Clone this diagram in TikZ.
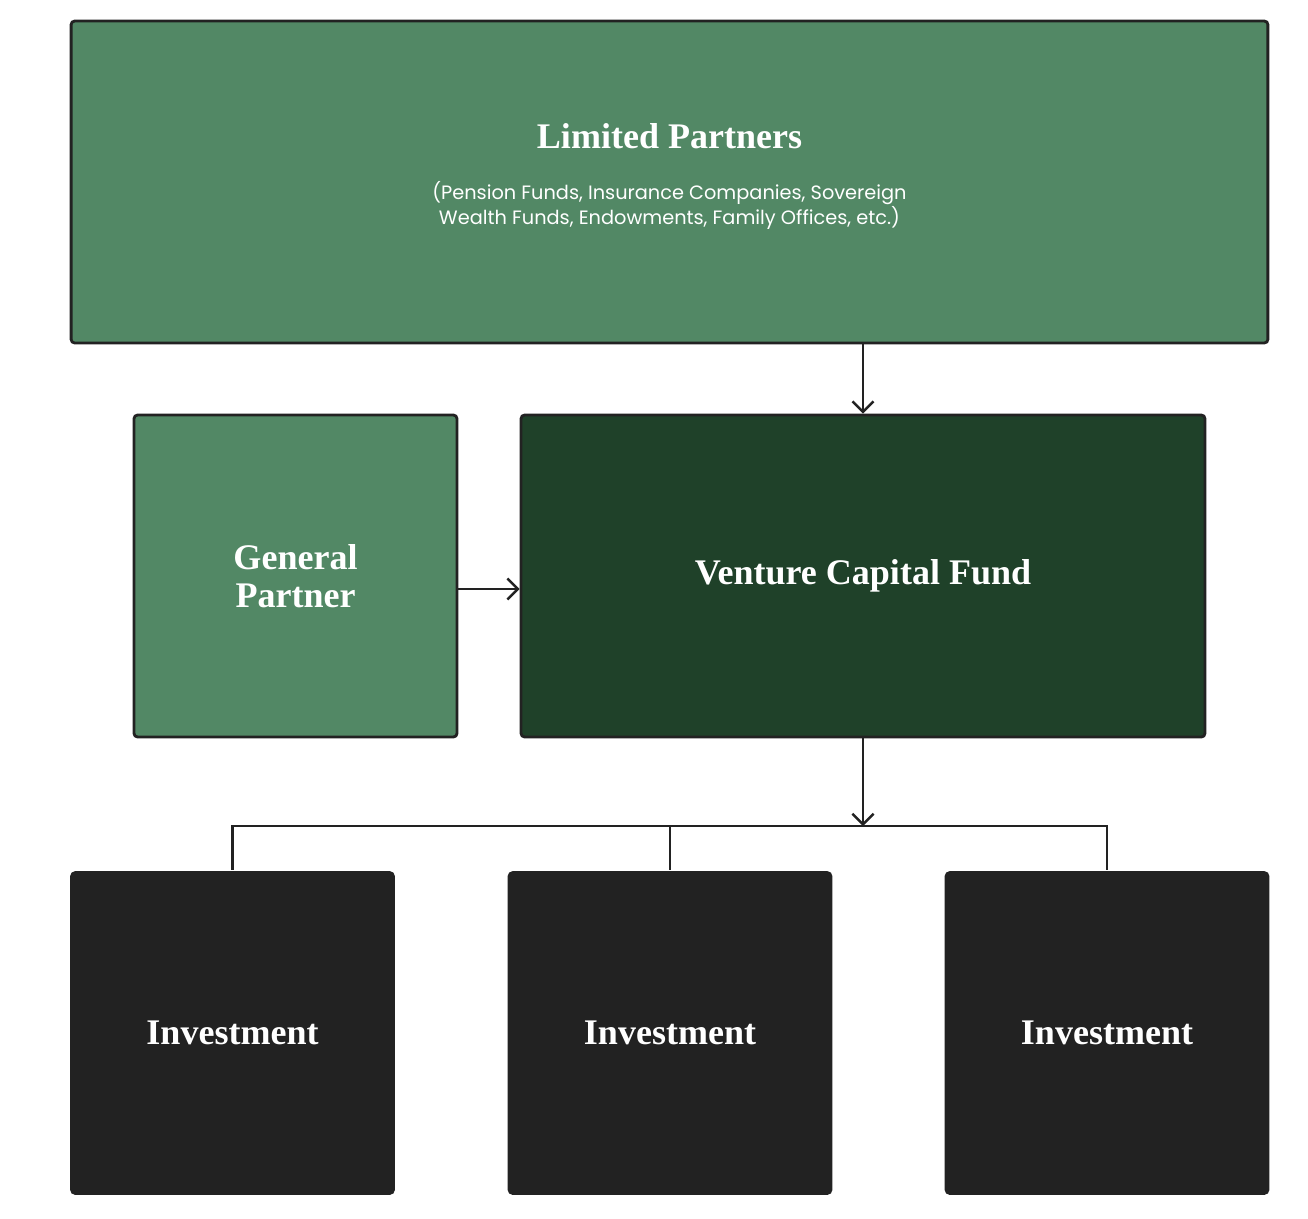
\documentclass[tikz,border=0pt]{standalone}
\usepackage{fontspec}
\setmainfont{Liberation Serif}
\newfontfamily\subfont{Poppins}
\usetikzlibrary{arrows.meta}
\definecolor{lpgreen}{HTML}{528865}
\definecolor{fundgreen}{HTML}{1F4129}
\definecolor{inkdark}{HTML}{222222}

\begin{document}
\begin{tikzpicture}[x=0.02cm,y=-0.02cm,
  >={Straight Barb[length=6pt,width=12pt]},
  link/.style={draw=inkdark,line width=1.4pt},
  box/.style={draw=inkdark,line width=1.6pt,rounded corners=2pt,inner sep=0pt,
    text=white,align=center,font=\fontsize{20.5}{22}\selectfont\bfseries},
  invbox/.style={box,draw=none,fill=inkdark,rounded corners=3pt,
    minimum width=6.5cm,minimum height=6.48cm}]
\useasboundingbox (0,0) rectangle (1308,1218);

\node[box,fill=lpgreen,minimum width=23.94cm,minimum height=6.44cm] (LimitedP) at (669.5,182)
  {Limited Partners\\[7pt]{\subfont\mdseries\fontsize{11}{13}\selectfont
   \begin{tabular}[t]{@{}c@{}}
   (Pension Funds, Insurance Companies, Sovereign\\
   Wealth Funds, Endowments, Family Offices, etc.)
   \end{tabular}}\rule[-23pt]{0pt}{0pt}};
\node[box,fill=lpgreen,minimum width=6.46cm,minimum height=6.44cm] (GeneralP) at (295.5,576)
  {General\\Partner};
\node[box,fill=fundgreen,minimum width=13.68cm,minimum height=6.44cm] (VCFund) at (863,576)
  {Venture Capital Fund};

\node[invbox] (Invest-1) at (232.5,1033) {Investment};
\node[invbox] (Invest-2) at (670,1033) {Investment};
\node[invbox] (Invest-3) at (1107,1033) {Investment};
\coordinate (Bus) at (863,826);

\draw[link,->] (VCFund.north |- LimitedP.south) -- (VCFund.north);
\draw[link,->] ([yshift=-0.26cm]GeneralP.east) -- ([yshift=-0.26cm]GeneralP.east -| VCFund.west);
\draw[link,->] (VCFund.south) -- (Bus);
\draw[link] (Invest-1.north) |- (Invest-3.north |- Bus) -- (Invest-3.north);
\draw[link] (Invest-2.north) -- (Invest-2.north |- Bus);
\end{tikzpicture}
\end{document}
